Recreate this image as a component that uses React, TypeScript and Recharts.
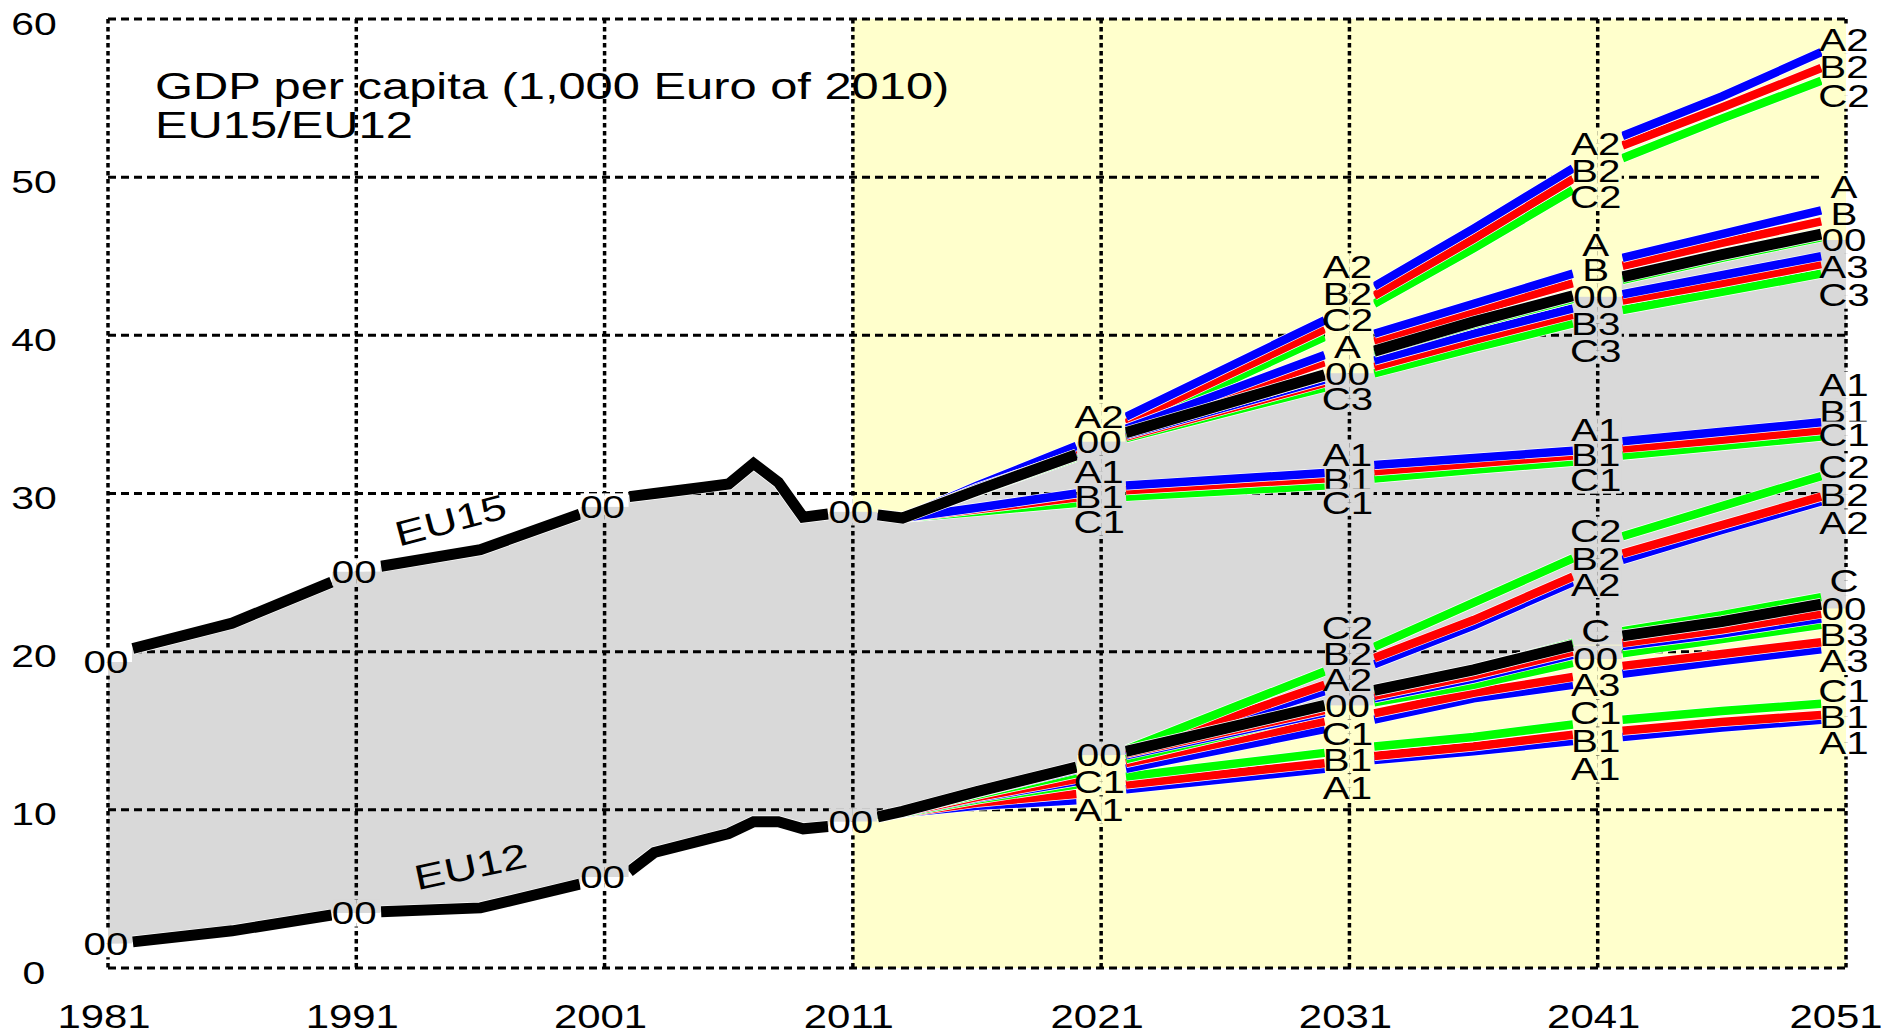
import React from 'react';
import {
  ComposedChart, Line, Area, XAxis, YAxis, CartesianGrid, ReferenceArea, ReferenceDot,
} from 'recharts';

const FONT = '"Liberation Sans", Arial, Helvetica, sans-serif';
const BLUE = '#0000FF';
const RED = '#FF0000';
const GREEN = '#00FF00';
const BLACK = '#000000';
const WHITE = '#FFFFFF';
const YEL = '#FFFFCC';
const GRAY = '#D9D9D9';

// ---------- axes ----------
const xTicks = [1981, 1991, 2001, 2011, 2021, 2031, 2041, 2051];
const yTicks = [0, 10, 20, 30, 40, 50, 60];
const histGaps = [1991, 2001, 2011];
const projGaps = [2021, 2031, 2041];

// ---------- history (scenario "00") ----------
const histYears = [1982, 1986, 1990, 1992, 1996, 2000, 2002, 2003, 2005, 2006, 2007, 2008, 2009, 2010];
const eu15Hist = [20.2, 21.8, 24.4, 25.4, 26.45, 28.7, 29.8, 30.0, 30.4, 30.6, 31.9, 30.7, 28.5, 28.7];
const eu12Hist = [1.65, 2.35, 3.35, 3.55, 3.8, 5.3, 6.1, 7.3, 8.1, 8.5, 9.25, 9.25, 8.8, 8.95];

// ---------- projections ----------
const projYears = [2012, 2013, 2016, 2020, 2022, 2030, 2032, 2036, 2040, 2042, 2046, 2050];

const eu15_00 = [28.65, 28.45, 30.2, 32.45, 33.85, 37.5, 39.0, 40.85, 42.5, 43.7, 45.1, 46.4];
const eu15_A2 = [28.65, 28.45, 30.5, 33.0, 34.85, 40.95, 43.1, 46.75, 50.55, 52.6, 55.1, 57.9];
const eu15_B2 = [28.65, 28.45, 30.45, 32.8, 34.45, 40.4, 42.5, 46.1, 49.9, 52.0, 54.4, 56.9];
const eu15_C2 = [28.65, 28.45, 30.4, 32.6, 34.1, 39.9, 42.0, 45.5, 49.2, 51.2, 53.7, 56.1];
const eu15_A = [28.65, 28.45, 30.35, 32.5, 34.1, 38.75, 40.1, 42.0, 43.9, 44.9, 46.4, 47.9];
const eu15_B = [28.65, 28.45, 30.3, 32.45, 34.0, 38.3, 39.6, 41.5, 43.3, 44.4, 45.85, 47.2];
const eu15_C = [28.65, 28.45, 30.2, 32.4, 33.8, 37.4, 38.9, 40.7, 42.3, 43.5, 44.9, 46.2];
const eu15_A3 = [28.65, 28.45, 30.2, 32.4, 33.7, 37.2, 38.4, 40.1, 41.7, 42.6, 43.8, 45.0];
const eu15_B3 = [28.65, 28.45, 30.15, 32.35, 33.6, 37.0, 38.0, 39.7, 41.3, 42.2, 43.3, 44.5];
const eu15_C3 = [28.65, 28.45, 30.1, 32.3, 33.5, 36.7, 37.6, 39.2, 40.75, 41.6, 42.75, 43.9];
const eu15_A1 = [28.65, 28.45, 29.1, 30.0, 30.5, 31.3, 31.8, 32.25, 32.7, 33.3, 33.9, 34.5];
const eu15_B1 = [28.65, 28.45, 29.0, 29.75, 30.2, 30.95, 31.4, 31.9, 32.4, 32.85, 33.4, 34.0];
const eu15_C1 = [28.65, 28.45, 28.85, 29.4, 29.8, 30.5, 30.95, 31.5, 32.0, 32.4, 33.0, 33.6];

const eu12_00 = [9.55, 9.9, 11.15, 12.7, 13.7, 16.6, 17.55, 18.85, 20.4, 21.0, 21.9, 23.0];
const eu12_C2 = [9.55, 9.9, 11.2, 12.7, 13.8, 18.75, 20.3, 23.1, 25.9, 27.3, 29.2, 31.1];
const eu12_B2 = [9.55, 9.9, 11.15, 12.65, 13.6, 17.9, 19.6, 22.0, 24.75, 26.2, 28.0, 29.8];
const eu12_A2 = [9.55, 9.9, 11.1, 12.6, 13.5, 17.5, 19.2, 21.65, 24.4, 25.8, 27.7, 29.5];
const eu12_C = [9.55, 9.9, 11.15, 12.7, 13.7, 16.55, 17.5, 18.9, 20.55, 21.3, 22.3, 23.45];
const eu12_B = [9.55, 9.9, 11.1, 12.6, 13.55, 16.3, 17.2, 18.5, 20.0, 20.55, 21.4, 22.4];
const eu12_A = [9.55, 9.9, 11.05, 12.55, 13.45, 16.15, 17.05, 18.3, 19.8, 20.35, 21.15, 22.1];
const eu12_C3 = [9.55, 9.9, 10.95, 12.3, 13.2, 16.2, 16.8, 17.9, 19.3, 19.9, 20.8, 21.7];
const eu12_B3 = [9.55, 9.85, 10.8, 11.95, 12.95, 15.6, 16.1, 17.4, 18.4, 19.1, 19.85, 20.6];
const eu12_A3 = [9.55, 9.85, 10.75, 11.8, 12.6, 15.1, 15.7, 17.05, 17.9, 18.6, 19.4, 20.15];
const eu12_C1 = [9.55, 9.8, 10.65, 11.6, 12.1, 13.6, 14.0, 14.6, 15.4, 15.7, 16.25, 16.7];
const eu12_B1 = [9.55, 9.8, 10.45, 11.0, 11.6, 12.95, 13.4, 14.0, 14.75, 15.0, 15.55, 16.0];
const eu12_A1 = [9.55, 9.8, 10.25, 10.6, 11.3, 12.6, 13.15, 13.7, 14.35, 14.6, 15.2, 15.7];

// ---------- edges of the shaded band at label years ----------
const edgeYears = [1981, 1991, 2001, 2011, 2021, 2031, 2041, 2051];
const eu15Edge = [19.7, 24.9, 29.25, 28.65, 33.15, 38.3, 43.1, 46.7];
const eu12Edge = [1.45, 3.45, 5.7, 9.25, 13.2, 17.1, 20.7, 23.25];

// ---------- scenario labels ----------
const lab1981 = ['00', '00'];
const lab1981Y = [19.34, 1.54];
const lab1991 = ['00', '00'];
const lab1991Y = [25.05, 3.48];
const lab2001 = ['00', '00'];
const lab2001Y = [29.15, 5.75];
const lab2011 = ['00', '00'];
const lab2011Y = [28.84, 9.25];
const lab2021 = ['A2', '00', 'A1', 'B1', 'C1', '00', 'C1', 'A1'];
const lab2021Y = [34.85, 33.27, 31.37, 29.79, 28.21, 13.46, 11.78, 9.99];
const lab2031 = ['A2', 'B2', 'C2', 'A', '00', 'C3', 'A1', 'B1', 'C1', 'C2', 'B2', 'A2', '00', 'C1', 'B1', 'A1'];
const lab2031Y = [44.33, 42.65, 40.96, 39.27, 37.59, 36.01, 32.43, 30.85, 29.44, 21.54, 19.89, 18.24, 16.59, 14.82, 13.17, 11.4];
const lab2041 = ['A2', 'B2', 'C2', 'A', 'B', '00', 'B3', 'C3', 'A1', 'B1', 'C1', 'C2', 'B2', 'A2', 'C', '00', 'A3', 'C1', 'B1', 'A1'];
const lab2041Y = [52.13, 50.44, 48.75, 45.7, 44.12, 42.43, 40.75, 39.06, 34.01, 32.43, 30.85, 27.67, 25.9, 24.25, 21.3, 19.53, 17.89, 16.12, 14.35, 12.58];
const lab2051 = ['A2', 'B2', 'C2', 'A', 'B', '00', 'A3', 'C3', 'A1', 'B1', 'C1', 'C2', 'B2', 'A2', 'C', '00', 'B3', 'A3', 'C1', 'B1', 'A1'];
const lab2051Y = [58.66, 56.97, 55.18, 49.39, 47.72, 46.02, 44.33, 42.54, 36.85, 35.16, 33.69, 31.68, 29.91, 28.14, 24.49, 22.72, 21.07, 19.42, 17.53, 15.88, 14.24];

const regionNames = ['EU15', 'EU12'];
const regionNameX = [1994.8, 1995.6];
const regionNameY = [28.3, 6.4];

const titleLines = ['GDP per capita (1,000 Euro of 2010)', 'EU15/EU12'];

// ---------- build tables ----------
type Row = { year: number; v: number | null };
function lineData(years: number[], vals: number[], gaps: number[]): Row[] {
  const rows: Row[] = years.map((y, i) => ({ year: y, v: vals[i] }));
  gaps.forEach((g) => rows.push({ year: g, v: null }));
  rows.sort((a, b) => a.year - b.year);
  return rows;
}

const scenarioLines = [
  { id: 'eu15C2', vals: eu15_C2, color: GREEN },
  { id: 'eu15B2', vals: eu15_B2, color: RED },
  { id: 'eu15A2', vals: eu15_A2, color: BLUE },
  { id: 'eu15C3', vals: eu15_C3, color: GREEN },
  { id: 'eu15B3', vals: eu15_B3, color: RED },
  { id: 'eu15A3', vals: eu15_A3, color: BLUE },
  { id: 'eu15C', vals: eu15_C, color: GREEN },
  { id: 'eu15B', vals: eu15_B, color: RED },
  { id: 'eu15A', vals: eu15_A, color: BLUE },
  { id: 'eu15C1', vals: eu15_C1, color: GREEN },
  { id: 'eu15B1', vals: eu15_B1, color: RED },
  { id: 'eu15A1', vals: eu15_A1, color: BLUE },
  { id: 'eu12A1', vals: eu12_A1, color: BLUE },
  { id: 'eu12B1', vals: eu12_B1, color: RED },
  { id: 'eu12C1', vals: eu12_C1, color: GREEN },
  { id: 'eu12A3', vals: eu12_A3, color: BLUE },
  { id: 'eu12B3', vals: eu12_B3, color: RED },
  { id: 'eu12C3', vals: eu12_C3, color: GREEN },
  { id: 'eu12A2', vals: eu12_A2, color: BLUE },
  { id: 'eu12B2', vals: eu12_B2, color: RED },
  { id: 'eu12C2', vals: eu12_C2, color: GREEN },
  { id: 'eu12A', vals: eu12_A, color: BLUE },
  { id: 'eu12B', vals: eu12_B, color: RED },
  { id: 'eu12C', vals: eu12_C, color: GREEN },
];

const eu15Base = lineData(histYears.concat(projYears), eu15Hist.concat(eu15_00), histGaps.concat(projGaps));
const eu12Base = lineData(histYears.concat(projYears), eu12Hist.concat(eu12_00), histGaps.concat(projGaps));

const bandRows: { year: number; range: [number, number] }[] = [];
edgeYears.forEach((y, i) => bandRows.push({ year: y, range: [eu12Edge[i], eu15Edge[i]] }));
histYears.forEach((y, i) => bandRows.push({ year: y, range: [eu12Hist[i], eu15Hist[i]] }));
projYears.forEach((y, i) => bandRows.push({ year: y, range: [eu12_00[i], eu15_00[i]] }));
bandRows.sort((a, b) => a.year - b.year);

type Lbl = { year: number; text: string; value: number };
const labelSets: [number, string[], number[]][] = [
  [1981, lab1981, lab1981Y], [1991, lab1991, lab1991Y], [2001, lab2001, lab2001Y], [2011, lab2011, lab2011Y],
  [2021, lab2021, lab2021Y], [2031, lab2031, lab2031Y], [2041, lab2041, lab2041Y], [2051, lab2051, lab2051Y],
];
const allLabels: Lbl[] = [];
labelSets.forEach(([year, texts, vals]) => texts.forEach((t, i) => allLabels.push({ year, text: t, value: vals[i] })));

function bgColor(year: number, side: 'L' | 'R', inGray: boolean) {
  const inside = side === 'L' ? year > 1981 : year < 2051;
  if (!inside) return WHITE;
  if (inGray) return GRAY;
  const yellow = side === 'L' ? year > 2011 : year >= 2011;
  return yellow ? YEL : WHITE;
}

function makeLabelShape(l: Lbl) {
  const idx = edgeYears.indexOf(l.year);
  const lo = eu12Edge[idx];
  const hi = eu15Edge[idx];
  let grayTop: boolean;
  let grayBottom: boolean;
  if (l.text === '00') {
    const upper = l.value > (lo + hi) / 2;
    grayTop = !upper;
    grayBottom = upper;
  } else {
    const g = l.value > lo && l.value < hi;
    grayTop = g;
    grayBottom = g;
  }
  return (props: any) => {
    const cx = props.cx;
    const cy = props.cy;
    if (cx == null || cy == null) return <g />;
    const hw = 24;
    const hh = 13.6;
    return (
      <g>
        <rect x={cx - hw} y={cy - hh} width={hw} height={hh} fill={bgColor(l.year, 'L', grayTop)} />
        <rect x={cx - hw} y={cy} width={hw} height={hh} fill={bgColor(l.year, 'L', grayBottom)} />
        <rect x={cx} y={cy - hh} width={hw} height={hh} fill={bgColor(l.year, 'R', grayTop)} />
        <rect x={cx} y={cy} width={hw} height={hh} fill={bgColor(l.year, 'R', grayBottom)} />
        <text
          x={0}
          y={0}
          transform={`translate(${cx - 2},${cy + 11.3}) scale(1.26,1)`}
          textAnchor="middle"
          fontSize={32}
          fontFamily={FONT}
          fill={BLACK}
        >
          {l.text}
        </text>
      </g>
    );
  };
}

function makeRegionShape(name: string, angle: number) {
  return (props: any) => {
    const { cx, cy } = props;
    if (cx == null || cy == null) return <g />;
    return (
      <text
        x={0}
        y={12}
        transform={`translate(${cx},${cy}) rotate(${-angle}) scale(1.3,1)`}
        textAnchor="middle"
        fontSize={35}
        fontFamily={FONT}
        fill={BLACK}
      >
        {name}
      </text>
    );
  };
}

const XTick = (props: any) => {
  const { x, y, payload } = props;
  const dx = payload.value === 2051 ? -10 : -4;
  return (
    <text
      x={0}
      y={0}
      transform={`translate(${x + dx},${y + 60}) scale(1.27,1)`}
      textAnchor="middle"
      fontSize={33}
      fontFamily={FONT}
      fill={BLACK}
    >
      {payload.value}
    </text>
  );
};

const YTick = (props: any) => {
  const { x, y, payload } = props;
  return (
    <text
      x={0}
      y={0}
      transform={`translate(${x - 74},${y + 15.5}) scale(1.32,1)`}
      textAnchor="middle"
      fontSize={31}
      fontFamily={FONT}
      fill={BLACK}
    >
      {payload.value}
    </text>
  );
};

function seriesPair(key: string, data: Row[], color: string, width: number) {
  return [
    <Line key={key + 'w'} data={data} dataKey="v" type="linear" stroke={WHITE} strokeWidth={width + 1.4}
      dot={false} activeDot={false} connectNulls={false} isAnimationActive={false} zIndex={400} />,
    <Line key={key} data={data} dataKey="v" type="linear" stroke={color} strokeWidth={width}
      dot={false} activeDot={false} connectNulls={false} isAnimationActive={false} zIndex={400} />,
  ];
}

export default function App() {
  return (
    <div style={{ position: 'absolute', left: 0, top: 0, width: 1886, height: 1035, background: '#fff' }}>
      <ComposedChart width={1886} height={1035} margin={{ top: 19, right: 40, left: 0, bottom: 0 }}>
        <XAxis
          type="number"
          dataKey="year"
          domain={[1981, 2051]}
          ticks={xTicks}
          interval={0}
          tickLine={false}
          axisLine={false}
          tickSize={0}
          tickMargin={0}
          height={67}
          tick={<XTick />}
          allowDataOverflow
        />
        <YAxis
          type="number"
          domain={[0, 60]}
          ticks={yTicks}
          interval={0}
          tickLine={false}
          axisLine={false}
          tickSize={0}
          tickMargin={0}
          width={108}
          tick={<YTick />}
          allowDataOverflow
        />
        <ReferenceArea x1={2011} x2={2051} y1={0} y2={60} fill={YEL} fillOpacity={1} stroke="none" zIndex={-300} />
        <Area
          data={bandRows}
          dataKey="range"
          type="linear"
          fill={GRAY}
          fillOpacity={1}
          stroke="none"
          isAnimationActive={false}
          activeDot={false}
          zIndex={-200}
        />
        <CartesianGrid horizontal vertical={false} stroke={BLACK} strokeWidth={3} strokeDasharray="8 5" zIndex={-100} />
        <CartesianGrid horizontal={false} vertical stroke={BLACK} strokeWidth={3.5} strokeDasharray="4.5 3.5" zIndex={-100} />
        {scenarioLines.flatMap((s) => seriesPair(s.id, lineData(projYears, s.vals, projGaps), s.color, 8.5))}
        {seriesPair('eu12base', eu12Base, BLACK, 11)}
        {seriesPair('eu15base', eu15Base, BLACK, 11)}
        {allLabels.map((l, i) => (
          <ReferenceDot key={'l' + i} x={l.year} y={l.value} r={0} ifOverflow="visible" shape={makeLabelShape(l)} zIndex={1500} />
        ))}
        {regionNames.map((n, i) => (
          <ReferenceDot key={'r' + i} x={regionNameX[i]} y={regionNameY[i]} r={0} ifOverflow="visible"
            shape={makeRegionShape(n, i === 0 ? 15 : 12)} zIndex={1500} />
        ))}
      </ComposedChart>
      <svg width={1886} height={1035} style={{ position: 'absolute', left: 0, top: 0, pointerEvents: 'none' }}>
        {titleLines.map((t, i) => (
          <text
            key={i}
            x={0}
            y={0}
            transform={`translate(155,${99 + i * 39}) scale(1.32,1)`}
            fontSize={37}
            fontFamily={FONT}
            fill={BLACK}
          >
            {t}
          </text>
        ))}
      </svg>
    </div>
  );
}
